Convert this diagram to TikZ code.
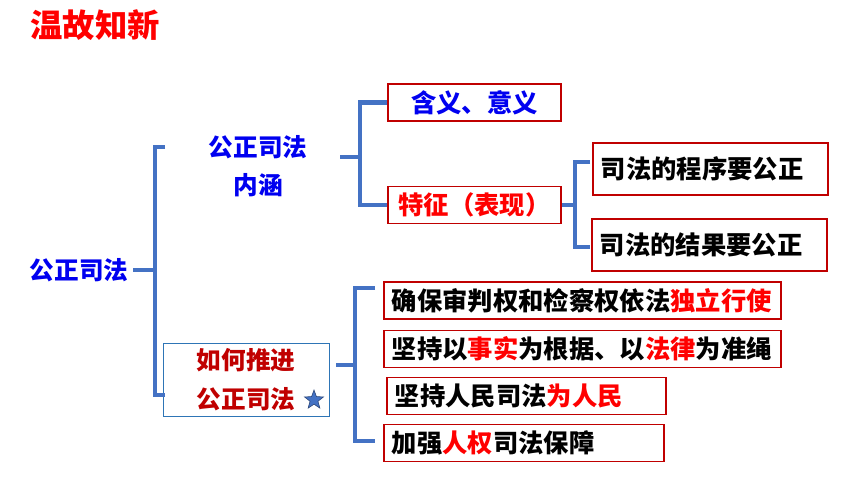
\documentclass[tikz,border=0pt]{standalone}
\usepackage{fontspec}
\setmainfont{Noto Sans CJK SC}
\usepackage{tikz}
\usetikzlibrary{shapes.geometric}
\definecolor{lineBlue}{RGB}{68, 114, 196}
\definecolor{boxRed}{RGB}{192, 0, 0}
\definecolor{hiRed}{RGB}{255, 0, 0}
\definecolor{textBlue}{RGB}{0, 0, 240}
\definecolor{frameBlue}{RGB}{46, 117, 182}

\tikzset{
    bracket/.style={draw=lineBlue, line width=3.5pt},
    redbox/.style={draw=boxRed, line width=1.4pt, anchor=west, inner xsep=0.2cm, inner ysep=0pt,
        minimum height=0.925cm, align=left, font=\bfseries\fontsize{18}{22}\selectfont},
    bluetext/.style={text=textBlue, align=center, font=\bfseries\fontsize{17.5}{27}\selectfont}
}

\begin{document}
\begin{tikzpicture}[x=0.025cm, y=-0.025cm]
    \useasboundingbox (0, 0) rectangle (860, 484);

    % Title
    \node[text=hiRed, font=\bfseries\fontsize{23}{28}\selectfont] (title) at (95, 25) {温故知新};

    % Root
    \node[bluetext] (root) at (79, 270) {公正司法};

    % Branch 1: meaning
    \node[bluetext] (neihan) at (258, 166) {公正司法\\内涵};
    \node[redbox, minimum width=4.325cm, text=textBlue] (hanyi) at (387, 102.5) {含义、意义};
    \node[redbox, minimum width=4.325cm, text=hiRed] (tezheng) at (387, 205) {特征（表现）};
    \node[redbox, text width=5.475cm, minimum height=1.3cm] (chengxu) at (592, 169) {司法的程序要公正};
    \node[redbox, text width=5.475cm, minimum height=1.3cm] (jieguo) at (591, 245) {司法的结果要公正};

    % Branch 2: how to promote
    \node[draw=frameBlue, line width=0.6pt, minimum width=4.15cm, minimum height=1.825cm, text=boxRed,
        align=center, font=\bfseries\fontsize{17.5}{28}\selectfont] (tuijin) at (246, 379.5) {如何推进\\公正司法};
    \node[star, star points=5, star point ratio=2.4, fill=lineBlue, draw=lineBlue!60!black, line width=0.4pt,
        minimum size=0.5cm, inner sep=0pt] (star) at (314, 400) {};
    \node[redbox, text width=9.525cm] (duli) at (383, 300.5) {确保审判权和检察权依法\textcolor{hiRed}{独立行使}};
    \node[redbox, text width=9.525cm] (shishi) at (383, 349) {坚持以\textcolor{hiRed}{事实}为根据、以\textcolor{hiRed}{法律}为准绳};
    \node[redbox, text width=6.575cm] (renmin) at (386, 396) {坚持人民司法\textcolor{hiRed}{为人民}};
    \node[redbox, text width=6.6cm] (renquan) at (383, 443) {加强\textcolor{hiRed}{人权}司法保障};

    % Bracket ends
    \coordinate (b1top) at (165, 147);
    \coordinate (b1bot) at (165, 395);
    \coordinate (b2stem) at (340, 157);
    \coordinate (b3top) at (590, 162);
    \coordinate (b3bot) at (590, 247);
    \coordinate (b4top) at (375, 288);
    \coordinate (b4bot) at (375, 441);
    \coordinate (b4stem) at (336, 365);

    % Brackets
    \draw[bracket] (root.east) -- (155, 270);
    \draw[bracket] (b1top) -- ++(-10, 0) |- (b1bot);
    \draw[bracket] (b2stem) -- ++(20, 0);
    \draw[bracket] (hanyi.west) -- ++(-27, 0) |- (tezheng.west);
    \draw[bracket] (tezheng.east) -- ++(15, 0);
    \draw[bracket] (b3top) -- ++(-15, 0) |- (b3bot);
    \draw[bracket] (b4stem) -- ++(19, 0);
    \draw[bracket] (b4top) -- ++(-20, 0) |- (b4bot);
\end{tikzpicture}
\end{document}
